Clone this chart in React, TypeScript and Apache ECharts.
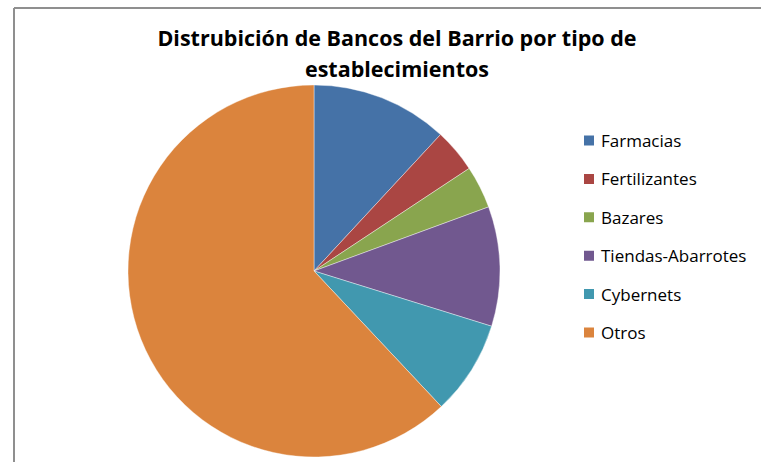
import React, { useEffect, useRef } from "react";
import * as echarts from "echarts";

const categories = ["Farmacias", "Fertilizantes", "Bazares", "Tiendas-Abarrotes", "Cybernets", "Otros"];
const values = [11.9, 3.8, 3.7, 10.4, 8.2, 62.0];
const colors = ["#4572A7", "#AA4643", "#89A54E", "#71588F", "#4198AF", "#DB843D"];
const titleText = "Distrubición de Bancos del Barrio por tipo de\nestablecimientos";

export default function App() {
  const ref = useRef<HTMLDivElement>(null);
  useEffect(() => {
    if (!ref.current) return;
    const chart = echarts.init(ref.current, null, { renderer: "svg" });
    chart.setOption({
      animation: false,
      backgroundColor: "#ffffff",
      color: colors,
      title: {
        text: titleText,
        left: 397,
        textAlign: "center",
        top: 22,
        padding: 0,
        textStyle: {
          fontFamily: "Open Sans",
          fontWeight: "bold",
          fontSize: 21.5,
          lineHeight: 31,
          color: "#000000",
        },
      },
      legend: {
        orient: "vertical",
        left: 582,
        top: 132,
        padding: 0,
        itemWidth: 12,
        itemHeight: 12,
        itemGap: 21.4,
        icon: "rect",
        data: categories,
        textStyle: {
          fontFamily: "Open Sans",
          fontSize: 17,
          lineHeight: 16,
          color: "#000000",
          padding: [0, 0, 0, 1],
        },
      },
      graphic: [
        { type: "line", shape: { x1: 14, y1: 8, x2: 761, y2: 8 }, style: { stroke: "#8f8f8f", lineWidth: 2 } },
        { type: "line", shape: { x1: 14, y1: 8, x2: 14, y2: 462 }, style: { stroke: "#8f8f8f", lineWidth: 2 } },
      ],
      series: [
        {
          type: "pie",
          center: [314, 271],
          radius: 186,
          startAngle: 90,
          clockwise: true,
          label: { show: false },
          labelLine: { show: false },
          emphasis: { disabled: true },
          itemStyle: { borderColor: "#ffffff", borderWidth: 0.4 },
          data: categories.map((name, i) => ({ name, value: values[i] })),
        },
      ],
    });
    return () => chart.dispose();
  }, []);
  return (
    <div
      ref={ref}
      style={{ position: "fixed", left: 0, top: 0, width: 761, height: 462 }}
    />
  );
}
